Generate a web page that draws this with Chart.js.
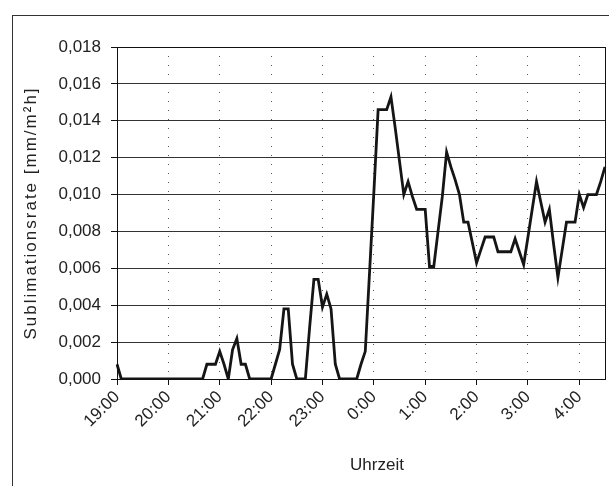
<!DOCTYPE html>
<html>
<head>
<meta charset="utf-8">
<script src="https://cdn.jsdelivr.net/npm/chart.js@4"></script>
<style>
  html, body { margin: 0; padding: 0; background: #fff; }
  #wrap { width: 609px; height: 486px; }
</style>
</head>
<body>
<div id="wrap"><canvas id="myChart" width="609" height="486"></canvas></div>
<script>
// Data: 5-minute values from 19:00 to 4:30
const startMinutes = 19 * 60;
const stepMinutes = 5;
const sublimation = [
  0.0008, 0, 0, 0, 0, 0, 0, 0, 0, 0, 0, 0,                                  // 19:00
  0, 0, 0, 0, 0, 0, 0, 0, 0, 0.0008, 0.0008, 0.0008,                        // 20:00
  0.0015, 0.0008, 0, 0.0016, 0.0022, 0.0008, 0.0008, 0, 0, 0, 0, 0,         // 21:00
  0, 0.0008, 0.0016, 0.0038, 0.0038, 0.0008, 0, 0, 0, 0.0028, 0.0054, 0.0054, // 22:00
  0.0039, 0.0046, 0.0038, 0.0008, 0, 0, 0, 0, 0, 0.0008, 0.0015, 0.0058,    // 23:00
  0.0101, 0.0146, 0.0146, 0.0146, 0.0153, 0.0136, 0.0118, 0.0100, 0.0107, 0.0099, 0.0092, 0.0092, // 0:00
  0.0092, 0.0061, 0.0061, 0.0080, 0.0099, 0.0123, 0.0115, 0.0108, 0.0100, 0.0085, 0.0085, 0.0074, // 1:00
  0.0063, 0.0070, 0.0077, 0.0077, 0.0077, 0.0069, 0.0069, 0.0069, 0.0069, 0.0076, 0.0069, 0.0062, // 2:00
  0.0077, 0.0092, 0.0107, 0.0096, 0.0085, 0.0092, 0.0073, 0.0055, 0.0070, 0.0085, 0.0085, 0.0085, // 3:00
  0.0100, 0.0093, 0.0100, 0.0100, 0.0100, 0.0107, 0.0115                   // 4:00
];
const yTicks = [0, 0.002, 0.004, 0.006, 0.008, 0.010, 0.012, 0.014, 0.016, 0.018];
const xTitle = "Uhrzeit";
const yTitle = "Sublimationsrate [mm/m²h]";

// category labels, one per value
const times = sublimation.map((v, i) => {
  const m = startMinutes + i * stepMinutes;
  const h = Math.floor(m / 60) % 24;
  const mm = m % 60;
  return `${h}:${mm < 10 ? "0" : ""}${mm}`;
});

const fontFamily = "'Liberation Sans', Arial, sans-serif";

// frame round plot area and outer border, spaced titles
const framePlugin = {
  id: "frame",
  beforeDraw(chart) {
    const y = chart.scales.y, x = chart.scales.x;
    if (!y._spaced) {
      const origY = y.drawTitle;
      y.drawTitle = function() {
        chart.ctx.save();
        chart.ctx.letterSpacing = "2px";
        origY.call(this);
        chart.ctx.restore();
      };
      const origX = x.drawTitle;
      x.drawTitle = function() {
        chart.ctx.save();
        chart.ctx.translate(16, 0);
        origX.call(this);
        chart.ctx.restore();
      };
      y._spaced = true;
    }
  },
  afterDraw(chart) {
    const ctx = chart.ctx;
    const a = chart.chartArea;
    ctx.save();
    ctx.strokeStyle = "#111";
    ctx.lineWidth = 1;
    ctx.strokeRect(Math.round(a.left) + 0.5, Math.round(a.top) + 0.5,
      Math.round(a.right - a.left), Math.round(a.bottom - a.top));
    ctx.strokeStyle = "#333";
    ctx.strokeRect(12.5, 15.5, 620, 500);
    ctx.restore();
  }
};

const config = {
  type: "line",
  data: {
    labels: times,
    datasets: [{
      data: sublimation,
      borderColor: "#151515",
      borderWidth: 2.8,
      pointRadius: 0,
      tension: 0,
      fill: false
    }]
  },
  options: {
    responsive: false,
    animation: false,
    layout: { padding: { left: 14, top: 47, right: 4, bottom: 8 } },
    plugins: {
      legend: { display: false },
      tooltip: { enabled: false }
    },
    scales: {
      x: {
        type: "category",
        offset: false,
        afterBuildTicks: scale => {
          scale.ticks = scale.ticks.filter(t => t.value % 12 === 0);
        },
        afterFit: scale => { scale.height = 99; },
        ticks: {
          autoSkip: false,
          maxRotation: 45,
          minRotation: 45,
          padding: 2,
          color: "#222",
          font: { family: fontFamily, size: 17 }
        },
        grid: {
          color: "#555",
          lineWidth: 1,
          drawTicks: true,
          tickLength: 6,
          tickColor: "#111"
        },
        border: { display: true, color: "#111", width: 1, dash: [1, 8] },
        title: {
          display: true,
          text: xTitle,
          color: "#222",
          padding: { top: 0, bottom: 2 },
          font: { family: fontFamily, size: 17 }
        }
      },
      y: {
        min: 0,
        max: 0.018,
        afterBuildTicks: scale => {
          scale.ticks = yTicks.map(v => ({ value: v }));
        },
        afterFit: scale => { scale.width = 103; },
        ticks: {
          padding: 10,
          color: "#222",
          font: { family: fontFamily, size: 17 },
          callback: v => v.toFixed(3).replace(".", ",")
        },
        grid: {
          color: "#333",
          lineWidth: 1,
          drawTicks: true,
          tickLength: 6,
          tickColor: "#111"
        },
        border: { display: true, color: "#111", width: 1 },
        title: {
          display: true,
          text: yTitle,
          color: "#222",
          padding: { top: 7, bottom: 0 },
          font: { family: fontFamily, size: 17 }
        }
      }
    }
  },
  plugins: [framePlugin]
};

const myChart = new Chart(document.getElementById("myChart"), config);
</script>
</body>
</html>
